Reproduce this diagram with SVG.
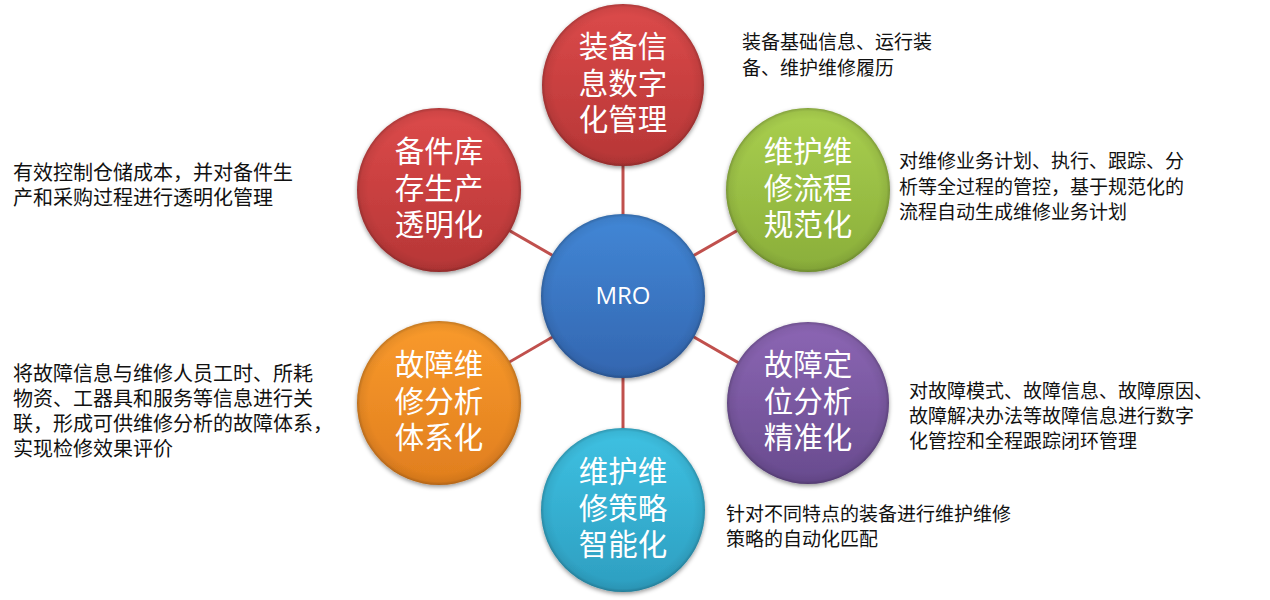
<svg xmlns="http://www.w3.org/2000/svg" width="1270" height="600" viewBox="0 0 1270 600">
<style>
.lbl{font-family:"Noto Sans CJK SC","Noto Sans",sans-serif;font-size:29.5px;fill:#fff;text-anchor:middle}
.desc{font-family:"Noto Sans CJK SC","Noto Sans",sans-serif;font-size:19px;fill:#111}
.descL{font-size:20px}
.link{stroke:#c0504d;stroke-width:3;fill:none}
.bev{fill:url(#bevel)}
</style>
<defs>
<filter id="sh" x="-20%" y="-20%" width="140%" height="150%">
<feDropShadow dx="0" dy="2" stdDeviation="2.2" flood-color="#000" flood-opacity="0.4"/>
</filter>
<radialGradient id="bevel" cx="50%" cy="50%" r="50%">
<stop offset="0.86" stop-color="#000" stop-opacity="0"/>
<stop offset="0.96" stop-color="#000" stop-opacity="0.06"/>
<stop offset="1" stop-color="#000" stop-opacity="0.22"/>
</radialGradient>
<linearGradient id="gRed" x1="0" y1="0" x2="0" y2="1">
<stop offset="0" stop-color="#dc4a4a"/><stop offset="1" stop-color="#b63636"/>
</linearGradient>
<linearGradient id="gGreen" x1="0" y1="0" x2="0" y2="1">
<stop offset="0" stop-color="#a9cf4f"/><stop offset="1" stop-color="#8aae3a"/>
</linearGradient>
<linearGradient id="gBlue" x1="0" y1="0" x2="0" y2="1">
<stop offset="0" stop-color="#4287d6"/><stop offset="1" stop-color="#3366b0"/>
</linearGradient>
<linearGradient id="gOrange" x1="0" y1="0" x2="0" y2="1">
<stop offset="0" stop-color="#f99a2c"/><stop offset="1" stop-color="#e07e1e"/>
</linearGradient>
<linearGradient id="gPurple" x1="0" y1="0" x2="0" y2="1">
<stop offset="0" stop-color="#8c66b4"/><stop offset="1" stop-color="#684b8e"/>
</linearGradient>
<linearGradient id="gCyan" x1="0" y1="0" x2="0" y2="1">
<stop offset="0" stop-color="#3ec1e2"/><stop offset="1" stop-color="#2d9ec0"/>
</linearGradient>
</defs>
<rect width="1270" height="600" fill="#fff"/>

<g id="connectors">
<line class="link" x1="623" y1="296" x2="623" y2="85"/>
<line class="link" x1="623" y1="296" x2="623" y2="510"/>
<line class="link" x1="623" y1="296" x2="439" y2="190"/>
<line class="link" x1="623" y1="296" x2="808" y2="190"/>
<line class="link" x1="623" y1="296" x2="439" y2="403"/>
<line class="link" x1="623" y1="296" x2="808" y2="403"/>
</g>

<g id="node-top">
<circle cx="623" cy="85" r="81" fill="url(#gRed)" filter="url(#sh)"/>
<circle cx="623" cy="85" r="81" class="bev"/>
<text class="lbl" x="623" y="57">装备信</text>
<text class="lbl" x="623" y="94">息数字</text>
<text class="lbl" x="623" y="130">化管理</text>
</g>
<g id="node-topleft">
<circle cx="439" cy="190" r="82" fill="url(#gRed)" filter="url(#sh)"/>
<circle cx="439" cy="190" r="82" class="bev"/>
<text class="lbl" x="439" y="162">备件库</text>
<text class="lbl" x="439" y="199">存生产</text>
<text class="lbl" x="439" y="235">透明化</text>
</g>
<g id="node-topright">
<circle cx="808" cy="190" r="82" fill="url(#gGreen)" filter="url(#sh)"/>
<circle cx="808" cy="190" r="82" class="bev"/>
<text class="lbl" x="808" y="162">维护维</text>
<text class="lbl" x="808" y="199">修流程</text>
<text class="lbl" x="808" y="235">规范化</text>
</g>
<g id="node-center">
<circle cx="623" cy="296" r="82" fill="url(#gBlue)" filter="url(#sh)"/>
<circle cx="623" cy="296" r="82" class="bev"/>
<text x="623" y="304" text-anchor="middle" font-family="'Open Sans','Noto Sans',sans-serif" font-size="24" fill="#fff">MRO</text>
</g>
<g id="node-bottomleft">
<circle cx="439" cy="403" r="82" fill="url(#gOrange)" filter="url(#sh)"/>
<circle cx="439" cy="403" r="82" class="bev"/>
<text class="lbl" x="439" y="375">故障维</text>
<text class="lbl" x="439" y="412">修分析</text>
<text class="lbl" x="439" y="448">体系化</text>
</g>
<g id="node-bottomright">
<circle cx="808" cy="403" r="81" fill="url(#gPurple)" filter="url(#sh)"/>
<circle cx="808" cy="403" r="81" class="bev"/>
<text class="lbl" x="808" y="375">故障定</text>
<text class="lbl" x="808" y="412">位分析</text>
<text class="lbl" x="808" y="448">精准化</text>
</g>
<g id="node-bottom">
<circle cx="623" cy="510" r="82" fill="url(#gCyan)" filter="url(#sh)"/>
<circle cx="623" cy="510" r="82" class="bev"/>
<text class="lbl" x="623" y="482">维护维</text>
<text class="lbl" x="623" y="519">修策略</text>
<text class="lbl" x="623" y="555">智能化</text>
</g>

<g id="descriptions">
<text class="desc" x="742" y="49">装备基础信息、运行装</text>
<text class="desc" x="742" y="75">备、维护维修履历</text>

<text class="desc" x="899" y="168">对维修业务计划、执行、跟踪、分</text>
<text class="desc" x="899" y="194">析等全过程的管控，基于规范化的</text>
<text class="desc" x="899" y="219">流程自动生成维修业务计划</text>

<text class="desc descL" x="13" y="180">有效控制仓储成本，并对备件生</text>
<text class="desc descL" x="13" y="205">产和采购过程进行透明化管理</text>

<text class="desc descL" x="13" y="381">将故障信息与维修人员工时、所耗</text>
<text class="desc descL" x="13" y="406">物资、工器具和服务等信息进行关</text>
<text class="desc descL" x="13" y="431">联，形成可供维修分析的故障体系，</text>
<text class="desc descL" x="13" y="456">实现检修效果评价</text>

<text class="desc" x="909" y="398">对故障模式、故障信息、故障原因、</text>
<text class="desc" x="909" y="423">故障解决办法等故障信息进行数字</text>
<text class="desc" x="909" y="448">化管控和全程跟踪闭环管理</text>

<text class="desc" x="726" y="521">针对不同特点的装备进行维护维修</text>
<text class="desc" x="726" y="546">策略的自动化匹配</text>
</g>
</svg>
